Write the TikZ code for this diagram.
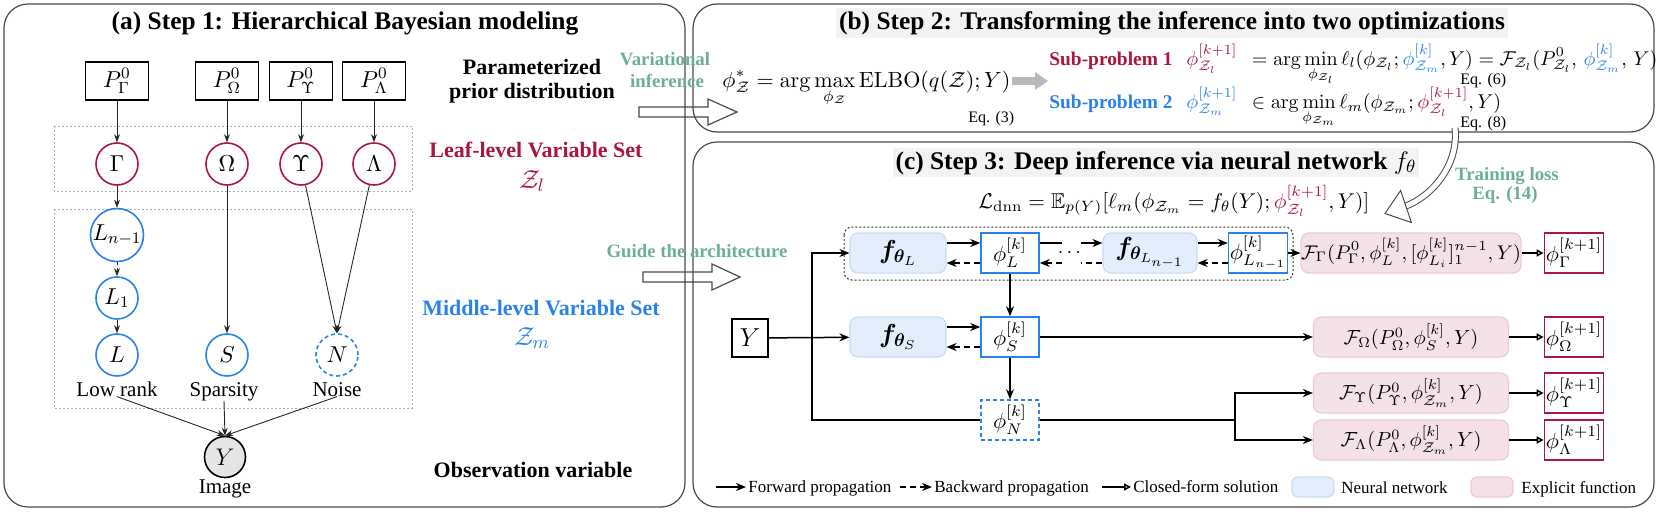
\documentclass[tikz,border=0pt]{standalone}
\usepackage{fix-cm}
\usepackage{amsmath,amssymb,bm}
\usepackage[no-math]{fontspec}
\setmainfont{Liberation Serif}
\usetikzlibrary{arrows.meta,calc}
\newcommand{\fsz}[1]{\fontsize{#1}{#1}\selectfont}
\definecolor{crim}{HTML}{AA163C}
\definecolor{blu}{HTML}{2A82E8}
\definecolor{tealx}{HTML}{6DAE9B}
\definecolor{nnfill}{HTML}{E2EEFB}
\definecolor{nnline}{HTML}{CADCF3}
\definecolor{effill}{HTML}{F4E2E6}
\definecolor{efline}{HTML}{EBCBD3}
\definecolor{pline}{HTML}{4A4A4A}
\definecolor{tbg}{HTML}{F3F3F3}
\begin{document}
\begin{tikzpicture}[x=0.5pt,y=-0.5pt,
  panel/.style={draw=pline,line width=0.6pt,rounded corners=12pt},
  ttl/.style={font=\fsz{12.7}\bfseries,anchor=base,inner sep=1.5pt},
  lbl/.style={font=\fsz{11}\bfseries,anchor=base,inner sep=0pt},
  tlbl/.style={font=\fsz{9.4}\bfseries,anchor=base,inner sep=0pt,text=tealx},
  subp/.style={font=\fsz{9.7}\bfseries,anchor=base west,inner sep=0pt},
  eqn/.style={font=\fsz{10},anchor=base west,inner sep=0pt},
  sml/.style={font=\fsz{8},anchor=base west,inner sep=0pt},
  leg/.style={font=\fsz{8.5},anchor=base west,inner sep=0pt},
  caplbl/.style={font=\fsz{10.5},anchor=base,inner sep=0pt},
  pbox/.style={draw,line width=0.6pt,minimum width=31.5pt,minimum height=19pt,inner sep=0pt,font=\fsz{11.5}},
  lcirc/.style={circle,draw=crim,line width=0.8pt,minimum size=21pt,inner sep=0pt,font=\fsz{11.5}},
  mcirc/.style={circle,draw=blu,line width=0.8pt,minimum size=21pt,inner sep=0pt,font=\fsz{11.5}},
  dbox/.style={draw=gray!65,line width=0.5pt,dash pattern=on 1pt off 1pt},
  cdot/.style={draw=black!80,line width=0.5pt,dash pattern=on 1pt off 1pt,rounded corners=4pt},
  tarr/.style={-{Stealth[length=4pt,width=3pt]},line width=0.45pt,draw=black!85},
  nn/.style={rounded corners=4pt,fill=nnfill,draw=nnline,line width=0.6pt,minimum width=48pt,minimum height=20pt,inner sep=0pt,font=\fsz{13}},
  phib/.style={draw=blu,line width=0.75pt,fill=white,minimum width=29pt,minimum height=20pt,inner sep=0pt,font=\fsz{11}},
  ef/.style={rounded corners=4pt,fill=effill,draw=efline,line width=0.6pt,minimum width=97.5pt,minimum height=20pt,inner sep=0pt,font=\fsz{10.2}},
  outb/.style={draw=crim,line width=0.85pt,fill=white,minimum width=29.5pt,minimum height=20pt,inner sep=0pt,font=\fsz{11}},
  fwd/.style={-{Stealth[length=5pt,width=4pt]},line width=0.75pt},
  bwd/.style={-{Stealth[length=5pt,width=4pt]},line width=0.75pt,dash pattern=on 3pt off 2pt},
  bwdp/.style={line width=0.75pt,dash pattern=on 3pt off 2pt},
  cf/.style={-{Triangle[open,length=3.5pt,width=3.5pt]},line width=0.75pt},
  plain/.style={line width=0.75pt},
  hollow/.style={draw=pline,line width=0.6pt,line join=miter},
]
\useasboundingbox (0,0) rectangle (1661,514);

% panels
\draw[panel] (4,4) rectangle (685,507);
\draw[panel] (693,4) rectangle (1654,132);
\draw[panel] (693,142) rectangle (1654,507);

\node[ttl] (ta) at (345,30) {(a) Step 1: Hierarchical Bayesian modeling};
\node[ttl,fill=tbg] (tb) at (1172,29) {(b) Step 2: Transforming the inference into two optimizations};
\node[ttl,fill=tbg] (tc) at (1156,169) {(c) Step 3: Deep inference via neural network $f_\theta$};

% ---------- panel (a)
\draw[dbox] (54,126) rectangle (412,191);
\draw[dbox] (54,209) rectangle (412,408);

\node[pbox] (pG) at (117,81) {$P^0_\Gamma$};
\node[pbox] (pO) at (227,81) {$P^0_\Omega$};
\node[pbox] (pU) at (301,81) {$P^0_\Upsilon$};
\node[pbox] (pL) at (374,81) {$P^0_\Lambda$};

\node[lcirc] (cG) at (117,164) {$\Gamma$};
\node[lcirc] (cO) at (227,164) {$\Omega$};
\node[lcirc] (cU) at (301,164) {$\Upsilon$};
\node[lcirc] (cLm) at (374,164) {$\Lambda$};

\node[mcirc] (cLn) at (117,235) {$L_{n-1}$};
\node[mcirc] (cL1) at (117,298) {$L_1$};
\node[mcirc] (cL) at (117,355) {$L$};
\node[mcirc] (cS) at (227,355) {$S$};
\node[mcirc,dash pattern=on 2pt off 1.5pt] (cN) at (337,355) {$N$};

\node[caplbl] (lr) at (117,396) {Low rank};
\node[caplbl] (sp) at (224,396) {Sparsity};
\node[caplbl] (no) at (337,396) {Noise};

\node[circle,draw,line width=0.8pt,fill=gray!20,minimum size=20.5pt,inner sep=0pt,font=\fsz{12}] (cY) at (225,457) {$Y$};
\node[caplbl] (img) at (225,493) {Image};

\draw[tarr] (pG) -- (cG);
\draw[tarr] (pO) -- (cO);
\draw[tarr] (pU) -- (cU);
\draw[tarr] (pL) -- (cLm);
\draw[tarr] (cG) -- (cLn);
\draw[tarr,dash pattern=on 1.2pt off 1.5pt] (cLn) -- (cL1);
\draw[tarr] (cL1) -- (cL);
\draw[tarr] (cO) -- (cS);
\draw[tarr] (cU) -- (cN.north);
\draw[tarr] (cLm) -- (cN.north);
\draw[tarr] (lr.south) -- (cY.north);
\draw[tarr] (sp.south) -- (cY.north);
\draw[tarr] (no.south) -- (cY.north);

\node[lbl] (pa1) at (532,74) {Parameterized};
\node[lbl] (pa2) at (532,98) {prior distribution};
\node[lbl,text=crim] (lf1) at (536,157) {Leaf-level Variable Set};
\node[font=\fsz{13},anchor=base,inner sep=0pt,text=crim] (lf2) at (532,188) {$\mathcal{Z}_l$};
\node[lbl,text=blu] (md1) at (541,315) {Middle-level Variable Set};
\node[font=\fsz{13},anchor=base,inner sep=0pt,text=blu] (md2) at (532,345) {$\mathcal{Z}_m$};
\node[lbl] (ob) at (533,477) {Observation variable};

% hollow arrows between panels
\node[tlbl] (vi1) at (665,65) {Variational};
\node[tlbl] (vi2) at (667,87) {inference};
\draw[hollow] (639,107) -- (708,107) -- (708,99) -- (737,112) -- (708,125) -- (708,117) -- (639,117) -- cycle;
\node[tlbl] (ga) at (697,257) {Guide the architecture};
\draw[hollow] (643,272) -- (712,272) -- (712,264) -- (740,277) -- (712,290) -- (712,282) -- (643,282) -- cycle;

% ---------- panel (b)
\node[eqn,font=\fsz{11}] (elbo) at (722,87) {$\displaystyle \phi^*_{\mathcal{Z}} = \arg\max_{\phi_{\mathcal{Z}}} \mathrm{ELBO}(q(\mathcal{Z});Y)$};
\node[sml] (eq3) at (968,122) {Eq. (3)};
\fill[gray!55] (1012,77) -- (1035,77) -- (1035,72) -- (1048,81) -- (1035,90) -- (1035,85) -- (1012,85) -- cycle;

\node[subp,text=crim] (sp1) at (1049,65) {Sub-problem 1};
\node[eqn] (l1) at (1186,65) {$\color{crim}\phi^{[k+1]}_{\mathcal{Z}_l}$};
\node[eqn] (r1) at (1246,65) {$\displaystyle {}= \arg\min_{\phi_{\mathcal{Z}_l}} \ell_l(\phi_{\mathcal{Z}_l};{\color{blu}\phi^{[k]}_{\mathcal{Z}_m}},Y) = \mathcal{F}_{\mathcal{Z}_l}(P^0_{\mathcal{Z}_l},\,{\color{blu}\phi^{[k]}_{\mathcal{Z}_m}},\,Y)$};
\node[sml] (eq6) at (1460,84) {Eq. (6)};

\node[subp,text=blu] (sp2) at (1049,108) {Sub-problem 2};
\node[eqn] (l2) at (1186,108) {$\color{blu}\phi^{[k+1]}_{\mathcal{Z}_m}$};
\node[eqn] (r2) at (1246,108) {$\displaystyle {}\in \arg\min_{\phi_{\mathcal{Z}_m}} \ell_m(\phi_{\mathcal{Z}_m};{\color{crim}\phi^{[k+1]}_{\mathcal{Z}_l}},Y)$};
\node[sml] (eq8) at (1460,127) {Eq. (8)};

% curved hollow arrow
\coordinate (ca0) at (1455,128);
\coordinate (ca1) at (1406,206);
\draw[draw=pline,line width=0.5pt,double=white,double distance=2.5pt] (ca0) .. controls (1459,165) and (1432,196) .. (ca1);
\filldraw[draw=pline,fill=white,line width=0.5pt,line join=miter] (1385,213.5) -- (1400.6,190.5) -- (1411.4,222.5) -- cycle;
\node[tlbl] (tl1) at (1507,180) {Training loss};
\node[tlbl] (tl2) at (1505,199) {Eq. (14)};

% ---------- panel (c)
\node[eqn,font=\fsz{10.7}] (ldnn) at (978,208) {$\mathcal{L}_{\mathrm{dnn}} = \mathbb{E}_{p(Y)}[\ell_m(\phi_{\mathcal{Z}_m} = f_\theta(Y);{\color{crim}\phi^{[k+1]}_{\mathcal{Z}_l}},Y)]$};

\draw[cdot] (844,227) rectangle (1293,280);

\node[nn] (fL) at (898,253) {$\bm{f}_{\bm{\theta}_L}$};
\node[phib] (phL) at (1010,253) {$\phi^{[k]}_L$};
\node[nn,minimum width=47pt] (fLn) at (1150,253) {$\bm{f}_{\bm{\theta}_{L_{n-1}}}$};
\node[phib,minimum width=29.5pt] (phLn) at (1258,253) {$\phi^{[k]}_{L_{n-1}}$};
\node[ef,font=\fsz{9.9}] (FG) at (1411,253) {$\mathcal{F}_\Gamma(P^0_\Gamma,\phi^{[k]}_L,[\phi^{[k]}_{L_i}]_1^{n-1},Y)$};
\node[outb] (oG) at (1574,253) {$\phi^{[k+1]}_\Gamma$};

\node[draw,line width=0.6pt,minimum width=18pt,minimum height=19pt,inner sep=0pt,font=\fsz{13}] (Yc) at (750,338) {$Y$};
\node[nn] (fS) at (898,337) {$\bm{f}_{\bm{\theta}_S}$};
\node[phib] (phS) at (1010,337) {$\phi^{[k]}_S$};
\node[phib,dash pattern=on 2pt off 1.5pt] (phN) at (1010,420) {$\phi^{[k]}_N$};
\node[ef] (FO) at (1411,337) {$\mathcal{F}_\Omega(P^0_\Omega,\phi^{[k]}_S,Y)$};
\node[outb] (oO) at (1574,337) {$\phi^{[k+1]}_\Omega$};
\node[ef] (FU) at (1411,393) {$\mathcal{F}_\Upsilon(P^0_\Upsilon,\phi^{[k]}_{\mathcal{Z}_m},Y)$};
\node[outb] (oU) at (1574,393) {$\phi^{[k+1]}_\Upsilon$};
\node[ef] (FLm) at (1411,440) {$\mathcal{F}_\Lambda(P^0_\Lambda,\phi^{[k]}_{\mathcal{Z}_m},Y)$};
\node[outb] (oLm) at (1574,440) {$\phi^{[k+1]}_\Lambda$};

\draw[fwd] ([yshift=5pt]fL.east) -- ([yshift=5pt]phL.west);
\draw[bwd] ([yshift=-5pt]phL.west) -- ([yshift=-5pt]fL.east);
\draw[plain] ([yshift=5pt]phL.east) -- ([yshift=5pt,xshift=11pt]phL.east);
\draw[fwd] ([yshift=5pt,xshift=-10.5pt]fLn.west) -- ([yshift=5pt]fLn.west);
\draw[bwdp] ([yshift=-5pt]fLn.west) -- ([yshift=-5pt,xshift=-10.5pt]fLn.west);
\draw[bwd] ([yshift=-5pt,xshift=11pt]phL.east) -- ([yshift=-5pt]phL.east);
\node[font=\fsz{10},inner sep=0pt] (dots) at ($(phL.east)!0.5!(fLn.west)$) {$\cdots$};
\draw[fwd] ([yshift=5pt]fLn.east) -- ([yshift=5pt]phLn.west);
\draw[bwd] ([yshift=-5pt]phLn.west) -- ([yshift=-5pt]fLn.east);
\draw[fwd] (phLn) -- (FG);
\draw[cf] (FG) -- (oG);

\coordinate (jx) at (812,338);
\draw[fwd] (Yc) -- (fS);
\draw[fwd] (jx) |- (fL.west);
\draw[plain] (jx) |- (phN.west);
\draw[fwd] ([yshift=5pt]fS.east) -- ([yshift=5pt]phS.west);
\draw[bwd] ([yshift=-5pt]phS.west) -- ([yshift=-5pt]fS.east);
\draw[fwd] (phL) -- (phS);
\draw[fwd] (phS) -- (phN);
\draw[fwd] (phS) -- (FO);
\draw[cf] (FO) -- (oO);
\coordinate (j2) at (1235,420);
\draw[plain] (phN) -- (j2);
\draw[fwd] (j2) |- (FU.west);
\draw[fwd] (j2) |- (FLm.west);
\draw[cf] (FU) -- (oU);
\draw[cf] (FLm) -- (oLm);

% legend
\coordinate (g1a) at (716,487); \coordinate (g1b) at (746,487);
\draw[fwd] (g1a) -- (g1b);
\node[leg] (lt1) at (748,492) {Forward propagation};
\coordinate (g2a) at (900,487); \coordinate (g2b) at (932,487);
\draw[bwd] (g2a) -- (g2b);
\node[leg] (lt2) at (934,492) {Backward propagation};
\coordinate (g3a) at (1102,487); \coordinate (g3b) at (1131,487);
\draw[cf] (g3a) -- (g3b);
\node[leg] (lt3) at (1133,492) {Closed-form solution};
\node[nn,minimum width=21pt,minimum height=10pt,rounded corners=3pt] (lgnn) at (1313,487) {};
\node[leg] (lt4) at (1341,493) {Neural network};
\node[ef,minimum width=21pt,minimum height=10pt,rounded corners=3pt] (lgef) at (1492,487) {};
\node[leg] (lt5) at (1521,493) {Explicit function};
\end{tikzpicture}
\end{document}
